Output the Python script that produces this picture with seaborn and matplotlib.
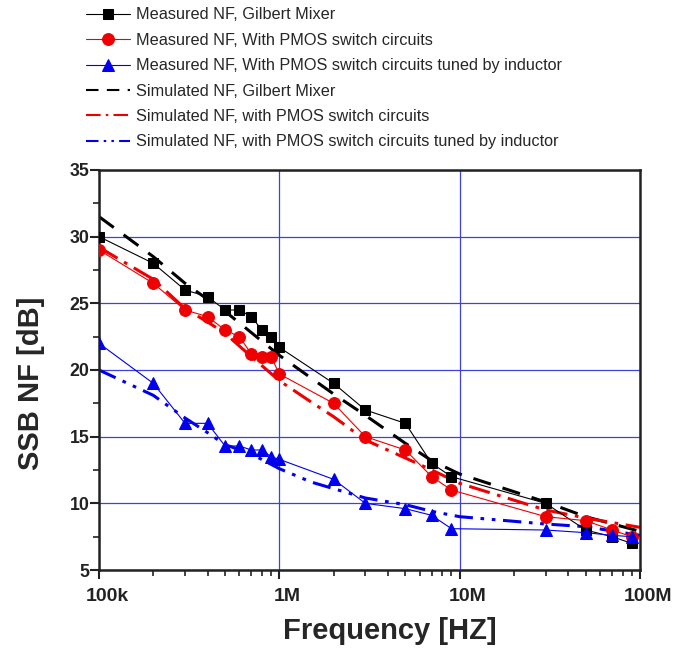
import numpy as np
import pandas as pd
import matplotlib
matplotlib.use("Agg")
import matplotlib.pyplot as plt
import matplotlib.ticker as mticker
import matplotlib.transforms as mtransforms
import seaborn as sns

# measured points (frequency in Hz, NF in dB)
freq_meas = [1e5, 2e5, 3e5, 4e5, 5e5, 6e5, 7e5, 8e5, 9e5, 1e6,
             2e6, 3e6, 5e6, 7e6, 9e6, 3e7, 5e7, 7e7, 9e7]
nf_gilbert = [30, 28, 26, 25.5, 24.5, 24.5, 24, 23, 22.5, 21.7,
              19, 17, 16, 13, 12, 10, 8, 7.5, 7]
nf_pmos = [29, 26.5, 24.5, 24, 23, 22.5, 21.2, 21, 21, 19.7,
           17.5, 15, 14, 12, 11, 9, 8.7, 8, 7.5]
nf_pmos_ind = [22, 19, 16, 16, 14.3, 14.3, 14, 14, 13.5, 13.3,
               11.8, 10, 9.6, 9.1, 8.1, 8, 7.8, 7.6, 7.5]

# simulated curves
freq_sim = [1e5, 2e5, 3e5, 4e5, 5e5, 7e5, 1e6, 1.5e6, 2e6, 3e6,
            5e6, 7e6, 1e7, 3e7, 5e7, 1e8]
sim_gilbert = [31.5, 28.5, 26.5, 25.3, 24.4, 22.8, 21.1, 19.4, 18.2, 16.6,
               14.5, 13.2, 12.2, 10.1, 9.0, 7.9]
sim_pmos = [29.2, 26.8, 24.6, 23.6, 22.75, 21.0, 19.2, 17.6, 16.5, 14.75,
            13.4, 12.5, 11.5, 9.5, 8.9, 8.2]
sim_pmos_ind = [20, 18.1, 16.4, 15.3, 14.4, 13.7, 12.6, 11.6, 11.1, 10.4,
                9.9, 9.4, 9.0, 8.45, 8.25, 7.6]

labels = ["Measured NF, Gilbert Mixer",
          "Measured NF, With PMOS switch circuits",
          "Measured NF, With PMOS switch circuits tuned by inductor",
          "Simulated NF, Gilbert Mixer",
          "Simulated NF, with PMOS switch circuits",
          "Simulated NF, with PMOS switch circuits tuned by inductor"]

x_ticks = [1e5, 1e6, 1e7, 1e8]
x_ticklabels = ["100k", "1M", "10M", "100M"]
y_ticks = [5, 10, 15, 20, 25, 30, 35]

sns.set_style("white")
plt.rcParams["font.family"] = ["Liberation Sans", "DejaVu Sans"]

fig = plt.figure(figsize=(6.88, 6.51), dpi=100)
ax = fig.add_axes([0.1439, 0.1244, 0.7863, 0.6145])

blue = "#0000ee"
red = "#ee0000"

meas = [(nf_gilbert, "black", "s", 7.5), (nf_pmos, red, "o", 8.5),
        (nf_pmos_ind, blue, "^", 8.5)]
for (vals, c, m, ms), lab in zip(meas, labels[:3]):
    sns.lineplot(x=freq_meas, y=vals, ax=ax, color=c, marker=m, markersize=ms,
                 markeredgecolor=c, markerfacecolor=c, linewidth=0.8,
                 label=lab, sort=False, zorder=3)

sims = [(sim_gilbert, "black", (0, (6, 4))),
        (sim_pmos, red, (0, (7, 2.5, 1.2, 2.5))),
        (sim_pmos_ind, blue, (0, (6, 2.5, 1.2, 2.5, 1.2, 2.5)))]
for (vals, c, ls), lab in zip(sims, labels[3:]):
    sns.lineplot(x=freq_sim, y=vals, ax=ax, color=c, linestyle=ls,
                 linewidth=2.2, label=lab, sort=False, zorder=2)

ax.set_xscale("log")
ax.set_xlim(1e5, 1e8)
ax.set_ylim(5, 35)
ax.set_xticks(x_ticks)
ax.set_xticklabels(x_ticklabels)
ax.xaxis.set_minor_locator(mticker.LogLocator(base=10, subs=np.arange(2, 10)))
ax.xaxis.set_minor_formatter(mticker.NullFormatter())
ax.set_yticks(y_ticks)
ax.yaxis.set_minor_locator(mticker.MultipleLocator(2.5))

ax.grid(True, which="major", color="#4040e0", linewidth=0.9)
ax.set_axisbelow(True)
for sp in ax.spines.values():
    sp.set_color("#222222")
    sp.set_linewidth(1.8)

ax.tick_params(which="both", bottom=True, left=True, top=False, right=False)
ax.tick_params(which="major", direction="out", length=6.5, width=1.5,
               colors="#222222", pad=0.5)
ax.tick_params(which="minor", direction="out", length=4, width=1.2,
               colors="#222222")
ax.tick_params(axis="y", labelsize=12.8)
ax.tick_params(axis="x", labelsize=14, pad=6.5)
for t in ax.get_xticklabels() + ax.get_yticklabels():
    t.set_fontweight("bold")
# x tick labels sit a little right of their ticks in the original
shift = mtransforms.ScaledTranslation(8 / 100, 0, fig.dpi_scale_trans)
for t in ax.get_xticklabels():
    t.set_transform(t.get_transform() + shift)

ax.set_xlabel("Frequency [HZ]", fontsize=21, fontweight="bold")
ax.set_ylabel("SSB NF [dB]", fontsize=21, fontweight="bold")
ax.xaxis.set_label_coords(0.538, -0.1175)
ax.yaxis.set_label_coords(-0.0998, 0.4675)

handles, labs = ax.get_legend_handles_labels()
ax.get_legend().remove()
leg = fig.legend(handles, labs, loc="upper left",
                 bbox_to_anchor=(0.1035, 1.011), frameon=False,
                 fontsize=11.7, handlelength=2.7, handletextpad=0.4,
                 labelspacing=0.64)
for ln in leg.get_lines()[3:]:
    ln.set_linewidth(1.5)

fig.savefig("out.png", dpi=100)
